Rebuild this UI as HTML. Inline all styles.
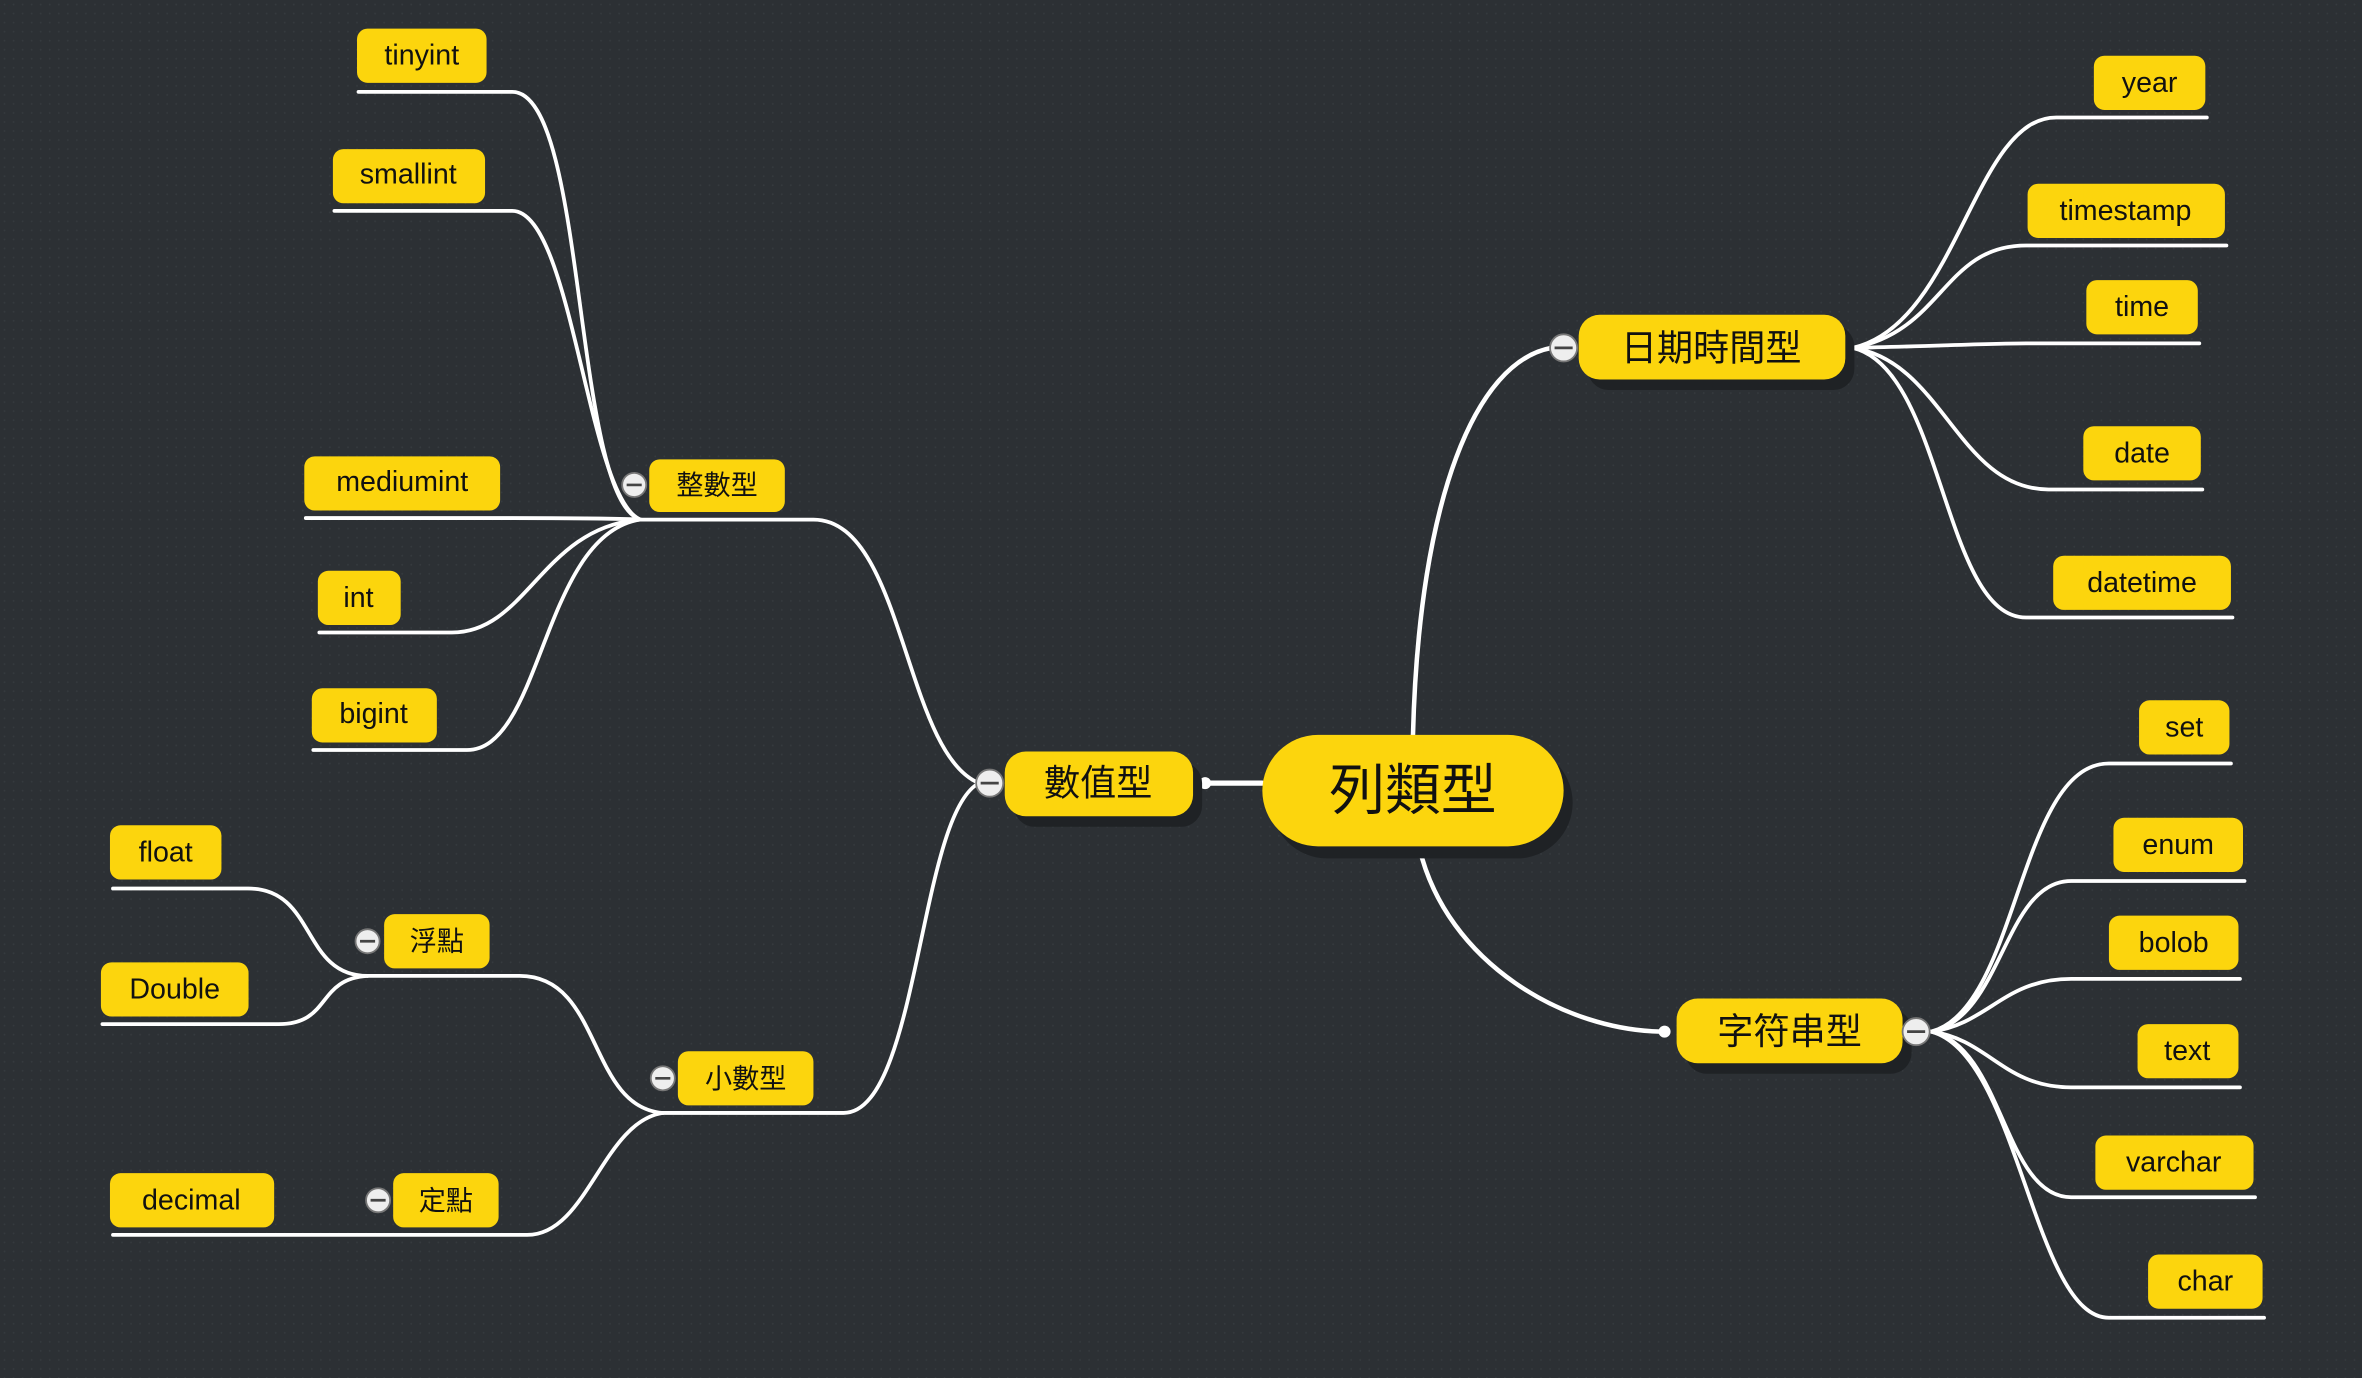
<!DOCTYPE html>
<html><head><meta charset="utf-8"><style>
html,body{margin:0;padding:0;background:#2c3034;}
svg{display:block}
text{font-family:"Liberation Sans","Noto Sans CJK TC",sans-serif;fill:#111;text-anchor:middle;dominant-baseline:central}
</style></head><body>
<svg width="2362" height="1378" viewBox="0 0 1568 915" preserveAspectRatio="none" xmlns="http://www.w3.org/2000/svg">
<defs>
<pattern id="dots" width="6" height="6" patternUnits="userSpaceOnUse"><rect width="6" height="6" fill="#2c3034"/><circle cx="3" cy="3" r="0.6" fill="#353a3e"/></pattern>
</defs>
<rect width="1568" height="915" fill="url(#dots)"/>
<g fill="none" stroke="#fff" stroke-width="2.5" stroke-linecap="round">
<!-- root connectors -->
<path d="M838,520 L800,520" stroke-width="3.5"/>
<path d="M938,488 C942,330 980,240 1030,231" stroke-width="3"/>
<path d="M942,562 C960,640 1040,685 1105,685" stroke-width="3"/>
<!-- 數值型 -> 整數型 / 小數型 -->
<path d="M650,520 C600,500 600,345 540,345 L421,345"/>
<path d="M650,520 C610,540 610,739 560,739 L440,739"/>
<!-- 整數型 leaves -->
<path d="M425,345 C380,330 390,61 340,61 L238,61"/>
<path d="M425,345 C390,330 380,140 340,140 L222,140"/>
<path d="M425,345 C400,344 360,344 340,344 L203,344"/>
<path d="M425,345 C360,350 350,420 300,420 L212,420"/>
<path d="M425,345 C360,355 360,498 310,498 L208,498"/>
<!-- 小數型 children -->
<path d="M440,739 C390,735 400,648 345,648 L244,648"/>
<path d="M440,739 C400,745 390,820 350,820 L75,820"/>
<!-- 浮點 leaves -->
<path d="M244,648 C200,648 210,590 165,590 L75,590"/>
<path d="M244,648 C210,650 220,680 185,680 L68,680"/>
<!-- 日期時間型 leaves -->
<path d="M1230,231 C1300,215 1310,78 1365,78 L1465,78"/>
<path d="M1230,231 C1290,220 1290,163 1345,163 L1478,163"/>
<path d="M1230,231 C1280,230 1320,228 1345,228 L1460,228"/>
<path d="M1230,231 C1290,240 1300,325 1360,325 L1462,325"/>
<path d="M1230,231 C1290,245 1290,410 1345,410 L1482,410"/>
<!-- 字符串型 leaves -->
<path d="M1282,685 C1340,670 1340,507 1400,507 L1481,507"/>
<path d="M1282,685 C1330,675 1330,585 1375,585 L1490,585"/>
<path d="M1282,685 C1320,680 1330,650 1375,650 L1487,650"/>
<path d="M1282,685 C1320,690 1330,722 1375,722 L1487,722"/>
<path d="M1282,685 C1330,695 1330,795 1375,795 L1497,795"/>
<path d="M1282,685 C1340,700 1350,875 1400,875 L1503,875"/>
</g>
<circle cx="800" cy="520" r="4" fill="#fff"/>
<circle cx="1105" cy="685" r="4" fill="#fff"/>
<!-- shadows -->
<g fill="#1f2225">
<rect x="844" y="496" width="200" height="74" rx="37"/>
<rect x="673" y="506" width="125" height="43" rx="14"/>
<rect x="1054" y="216" width="177" height="43" rx="14"/>
<rect x="1119" y="670" width="150" height="43" rx="14"/>
</g>
<!-- nodes -->
<g fill="#fcd50d">
<rect x="838" y="488" width="200" height="74" rx="37"/>
<rect x="667" y="499" width="125" height="43" rx="14"/>
<rect x="1048" y="209" width="177" height="43" rx="14"/>
<rect x="1113" y="663" width="150" height="43" rx="14"/>
<rect x="431" y="305" width="90" height="35" rx="7"/>
<rect x="450" y="698" width="90" height="36" rx="7"/>
<rect x="255" y="607" width="70" height="36" rx="7"/>
<rect x="261" y="779" width="70" height="36" rx="7"/>
<rect x="73" y="779" width="109" height="36" rx="7"/>
<rect x="237" y="19" width="86" height="36" rx="7"/>
<rect x="221" y="99" width="101" height="36" rx="7"/>
<rect x="202" y="303" width="130" height="36" rx="7"/>
<rect x="211" y="379" width="55" height="36" rx="7"/>
<rect x="207" y="457" width="83" height="36" rx="7"/>
<rect x="73" y="548" width="74" height="36" rx="7"/>
<rect x="67" y="639" width="98" height="36" rx="7"/>
<rect x="1390" y="37" width="74" height="36" rx="7"/>
<rect x="1346" y="122" width="131" height="36" rx="7"/>
<rect x="1385" y="186" width="74" height="36" rx="7"/>
<rect x="1383" y="283" width="78" height="36" rx="7"/>
<rect x="1363" y="369" width="118" height="36" rx="7"/>
<rect x="1420" y="465" width="60" height="36" rx="7"/>
<rect x="1403" y="543" width="86" height="36" rx="7"/>
<rect x="1400" y="608" width="86" height="36" rx="7"/>
<rect x="1419" y="680" width="67" height="36" rx="7"/>
<rect x="1391" y="754" width="105" height="36" rx="7"/>
<rect x="1426" y="833" width="76" height="36" rx="7"/>
</g>
<!-- collapse circles -->
<g fill="#eee" stroke="#777" stroke-width="1.2">
<circle cx="657" cy="520" r="9"/><circle cx="1038" cy="231" r="9"/><circle cx="1272" cy="685" r="9"/>
<circle cx="421" cy="322" r="8"/><circle cx="440" cy="716" r="8"/><circle cx="244" cy="625" r="8"/><circle cx="251" cy="797" r="8"/>
</g>
<g stroke="#444" stroke-width="1.8">
<path d="M651,520h12M1032,231h12M1266,685h12M416,322h10M435,716h10M239,625h10M246,797h10"/>
</g>
<text x="938" y="525" style="font-size:37px">列類型</text>
<text x="729" y="520" style="font-size:24px">數值型</text>
<text x="1136" y="231" style="font-size:24px">日期時間型</text>
<text x="1188" y="685" style="font-size:24px">字符串型</text>
<g style="font-size:18px">
<text x="476" y="322">整數型</text>
<text x="495" y="716">小數型</text>
<text x="290" y="625">浮點</text>
<text x="296" y="797">定點</text>
</g>
<g style="font-size:19px">
<text x="127" y="797">decimal</text>
<text x="280" y="37">tinyint</text>
<text x="271" y="116">smallint</text>
<text x="267" y="320">mediumint</text>
<text x="238" y="397">int</text>
<text x="248" y="474">bigint</text>
<text x="110" y="566">float</text>
<text x="116" y="657">Double</text>
<text x="1427" y="55">year</text>
<text x="1411" y="140">timestamp</text>
<text x="1422" y="204">time</text>
<text x="1422" y="301">date</text>
<text x="1422" y="387">datetime</text>
<text x="1450" y="483">set</text>
<text x="1446" y="561">enum</text>
<text x="1443" y="626">bolob</text>
<text x="1452" y="698">text</text>
<text x="1443" y="772">varchar</text>
<text x="1464" y="851">char</text>
</g>
</svg>
</body></html>
